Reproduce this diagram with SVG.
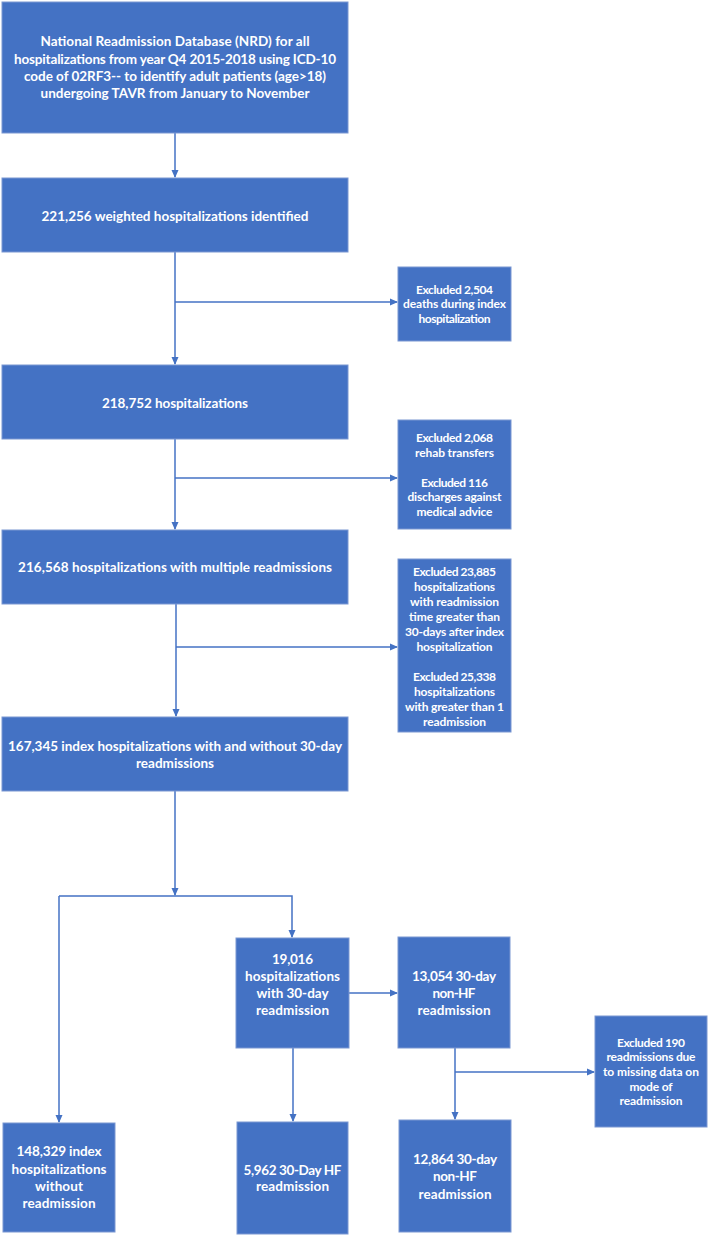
<svg xmlns="http://www.w3.org/2000/svg" width="709" height="1235" viewBox="0 0 709 1235">
<defs>
<style>
.box{fill:#4472C4;stroke:#7a97d2;stroke-width:1}
.t{font-family:Lato,"Open Sans","Liberation Sans",sans-serif;font-weight:bold;font-size:13.5px;fill:#ffffff;text-anchor:middle}
.s{font-size:12px}
.c{fill:none;stroke:#4472C4;stroke-width:1.5}
</style>
<marker id="ah" markerWidth="8" markerHeight="8" refX="7" refY="4" orient="auto" markerUnits="userSpaceOnUse">
<path d="M0,0.5 L8,4 L0,7.5 Z" fill="#4472C4"/>
</marker>
</defs>
<rect width="709" height="1235" fill="#ffffff"/>
<g id="connectors">
<path class="c" d="M175,133 V177" marker-end="url(#ah)"/>
<path class="c" d="M175,252 V364" marker-end="url(#ah)"/>
<path class="c" d="M175,302 H397" marker-end="url(#ah)"/>
<path class="c" d="M175,439 V529" marker-end="url(#ah)"/>
<path class="c" d="M175,478 H397" marker-end="url(#ah)"/>
<path class="c" d="M176,604 V716" marker-end="url(#ah)"/>
<path class="c" d="M176,647 H397" marker-end="url(#ah)"/>
<path class="c" d="M175,791 V895" marker-end="url(#ah)"/>
<path class="c" d="M59,896 H292 V937" marker-end="url(#ah)"/>
<path class="c" d="M59,896 V1122" marker-end="url(#ah)"/>
<path class="c" d="M349,993 H397" marker-end="url(#ah)"/>
<path class="c" d="M293,1048 V1121" marker-end="url(#ah)"/>
<path class="c" d="M455,1048 V1119" marker-end="url(#ah)"/>
<path class="c" d="M455,1072 H594" marker-end="url(#ah)"/>
</g>
<g id="n1"><rect class="box" x="2" y="2" width="346" height="131"/>
<text class="t" x="175" y="46" textLength="269">National Readmission Database (NRD) for all</text>
<text class="t" x="175" y="64" textLength="322">hospitalizations from year Q4 2015-2018 using ICD-10</text>
<text class="t" x="175" y="81" textLength="302">code of 02RF3-- to identify adult patients (age&gt;18)</text>
<text class="t" x="175" y="98" textLength="269">undergoing TAVR from January to November</text></g>
<g id="n2"><rect class="box" x="2" y="178" width="346" height="74"/>
<text class="t" x="175" y="221" textLength="267">221,256 weighted hospitalizations identified</text></g>
<g id="e1"><rect class="box" x="398" y="267" width="113" height="74"/>
<text class="t s" x="454.5" y="294" textLength="77">Excluded 2,504</text>
<text class="t s" x="454.5" y="308" textLength="103">deaths during index</text>
<text class="t s" x="454.5" y="323" textLength="72">hospitalization</text></g>
<g id="n3"><rect class="box" x="2" y="365" width="346" height="74"/>
<text class="t" x="175" y="408" textLength="146">218,752 hospitalizations</text></g>
<g id="e2"><rect class="box" x="398" y="420" width="113" height="109"/>
<text class="t s" x="454.5" y="441.5" textLength="77">Excluded 2,068</text>
<text class="t s" x="454.5" y="456.5" textLength="79">rehab transfers</text>
<text class="t s" x="454.5" y="486.5" textLength="67">Excluded 116</text>
<text class="t s" x="454.5" y="501" textLength="94">discharges against</text>
<text class="t s" x="454.5" y="516" textLength="76">medical advice</text></g>
<g id="n4"><rect class="box" x="2" y="530" width="346" height="74"/>
<text class="t" x="175" y="572" textLength="314">216,568 hospitalizations with multiple readmissions</text></g>
<g id="e3"><rect class="box" x="398" y="559" width="113" height="173"/>
<text class="t s" x="454.5" y="575.5" textLength="83">Excluded 23,885</text>
<text class="t s" x="454.5" y="590.5" textLength="81">hospitalizations</text>
<text class="t s" x="454.5" y="605.5" textLength="89">with readmission</text>
<text class="t s" x="454.5" y="620.5" textLength="91">time greater than</text>
<text class="t s" x="454.5" y="635.5" textLength="99">30-days after index</text>
<text class="t s" x="454.5" y="650.5" textLength="76">hospitalization</text>
<text class="t s" x="454.5" y="680.5" textLength="83">Excluded 25,338</text>
<text class="t s" x="454.5" y="695.5" textLength="81">hospitalizations</text>
<text class="t s" x="454.5" y="710.5" textLength="99">with greater than 1</text>
<text class="t s" x="454.5" y="725.5" textLength="63">readmission</text></g>
<g id="n5"><rect class="box" x="2" y="717" width="346" height="74"/>
<text class="t" x="175" y="751" textLength="334">167,345 index hospitalizations with and without 30-day</text>
<text class="t" x="175" y="768" textLength="78">readmissions</text></g>
<g id="n6"><rect class="box" x="236" y="938" width="113" height="110"/>
<text class="t" x="292.5" y="964" textLength="41">19,016</text>
<text class="t" x="292.5" y="981" textLength="95">hospitalizations</text>
<text class="t" x="292.5" y="998" textLength="72">with 30-day</text>
<text class="t" x="292.5" y="1014.5" textLength="73">readmission</text></g>
<g id="n7"><rect class="box" x="398" y="937" width="112" height="111"/>
<text class="t" x="454" y="981" textLength="84">13,054 30-day</text>
<text class="t" x="454" y="998" textLength="43">non-HF</text>
<text class="t" x="454" y="1015" textLength="73">readmission</text></g>
<g id="e4"><rect class="box" x="595" y="1016" width="112" height="111"/>
<text class="t s" x="651" y="1047" textLength="68">Excluded 190</text>
<text class="t s" x="651" y="1061" textLength="89">readmissions due</text>
<text class="t s" x="651" y="1076" textLength="96">to missing data on</text>
<text class="t s" x="651" y="1091" textLength="43">mode of</text>
<text class="t s" x="651" y="1105" textLength="63">readmission</text></g>
<g id="n8"><rect class="box" x="3" y="1123" width="112" height="109"/>
<text class="t" x="59" y="1156" textLength="85">148,329 index</text>
<text class="t" x="59" y="1174" textLength="95">hospitalizations</text>
<text class="t" x="59" y="1191" textLength="48">without</text>
<text class="t" x="59" y="1208" textLength="73">readmission</text></g>
<g id="n9"><rect class="box" x="237" y="1122" width="111" height="112"/>
<text class="t" x="292.5" y="1174.5" textLength="98">5,962 30-Day HF</text>
<text class="t" x="292.5" y="1191" textLength="73">readmission</text></g>
<g id="n10"><rect class="box" x="399" y="1120" width="112" height="112"/>
<text class="t" x="455" y="1164" textLength="84">12,864 30-day</text>
<text class="t" x="455" y="1181" textLength="44">non-HF</text>
<text class="t" x="455" y="1198.5" textLength="73">readmission</text></g>
</svg>
